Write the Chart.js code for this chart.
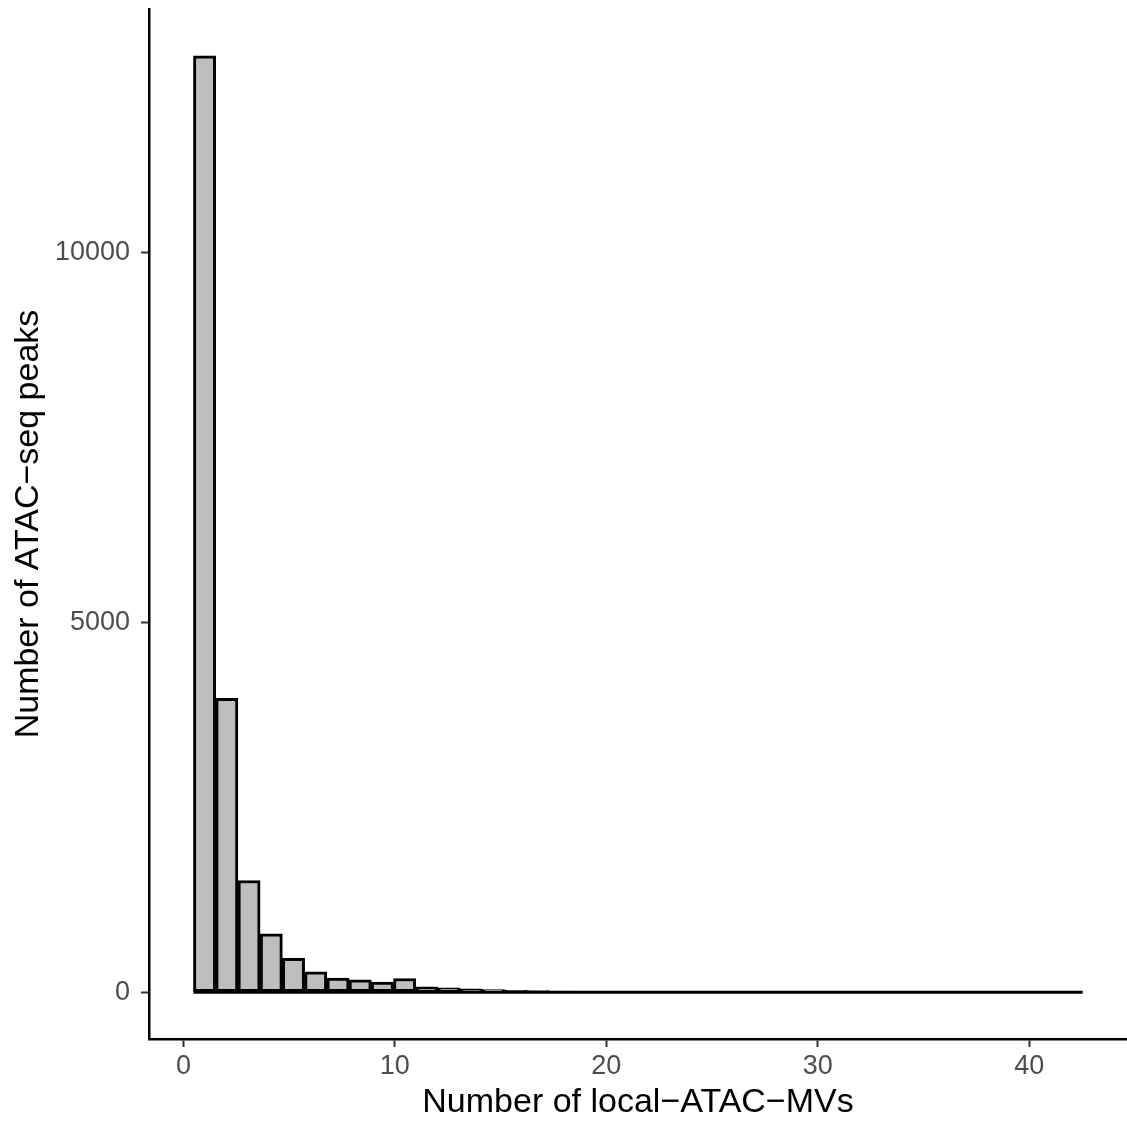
<!DOCTYPE html>
<html>
<head>
<meta charset="utf-8">
<script src="https://cdn.jsdelivr.net/npm/chart.js@4"></script>
<style>
  html, body { margin: 0; padding: 0; background: #fff; }
  canvas { display: block; }
</style>
</head>
<body>
<canvas id="hist" width="1127" height="1126"></canvas>
<script>
// histogram: 40 bins between the first and last centre (ggplot style)
const binFirst = 1;
const binLast = 42;
const binCount = 40;

// counts per bin
const counts = [
  12655, 3972, 1509, 788, 458, 276, 189, 168, 135, 185,
  72, 58, 45, 34, 26, 20, 16, 13, 11, 9,
  8, 7, 6, 5, 5, 4, 4, 3, 3, 3,
  2, 2, 2, 2, 1, 2, 1, 1, 1, 1
];

const xTicks = [0, 10, 20, 30, 40];
const yTicks = [0, 5000, 10000];

const binWidth = (binLast - binFirst) / (binCount - 1);
const centres = counts.map((_, i) => binFirst + i * binWidth);
const lo = binFirst - binWidth / 2;
const hi = binLast + binWidth / 2;
const yMax = Math.max(...counts);

const barData = counts.map((c, i) => ({ x: centres[i], y: c }));

const tickFont = { family: "'Liberation Sans', Arial, sans-serif", size: 27 };
const titleFont = { family: "'Liberation Sans', Arial, sans-serif", size: 34 };

const ctx = document.getElementById("hist").getContext("2d");

new Chart(ctx, {
  data: {
    datasets: [
      {
        type: "line",
        data: [{ x: lo, y: 0 }, { x: hi, y: 0 }],
        borderColor: "#000",
        borderWidth: 3,
        pointRadius: 0,
        order: 0
      },
      {
        type: "bar",
        data: barData,
        backgroundColor: "#BEBEBE",
        borderColor: "#000",
        borderWidth: 3,
        borderSkipped: false,
        barPercentage: 1,
        categoryPercentage: 1,
        order: 1
      }
    ]
  },
  options: {
    responsive: false,
    animation: false,
    layout: { padding: { top: 9, right: 0, left: 0, bottom: 0 } },
    plugins: { legend: { display: false }, tooltip: { enabled: false } },
    scales: {
      x: {
        type: "linear",
        offset: false,
        min: lo - (hi - lo) * 0.05,
        max: hi + (hi - lo) * 0.05,
        afterBuildTicks: s => { s.ticks = xTicks.map(v => ({ value: v })); },
        afterFit: s => { s.height = 87; s.paddingLeft = 0; s.paddingRight = 0; },
        ticks: { font: tickFont, color: "#4D4D4D", padding: 3, maxRotation: 0, callback: v => String(v) },
        grid: { offset: false, drawOnChartArea: false, tickLength: 8, tickWidth: 2, tickColor: "#333" },
        border: { display: true, color: "#000", width: 2.5 },
        title: {
          display: true,
          text: "Number of local\u2212ATAC\u2212MVs",
          font: titleFont,
          color: "#000",
          padding: { top: 0, bottom: 3 }
        }
      },
      y: {
        type: "linear",
        min: -yMax * 0.05,
        max: yMax * 1.05,
        afterBuildTicks: s => { s.ticks = yTicks.map(v => ({ value: v })); },
        afterFit: s => { s.width = 149; s.paddingTop = 0; s.paddingBottom = 0; },
        ticks: { font: tickFont, color: "#4D4D4D", padding: 11, callback: v => String(v) },
        grid: { drawOnChartArea: false, tickLength: 8, tickWidth: 2, tickColor: "#333" },
        border: { display: true, color: "#000", width: 2.5 },
        title: {
          display: true,
          text: "Number of ATAC\u2212seq peaks",
          font: titleFont,
          color: "#000",
          padding: { top: 8, bottom: 0 }
        }
      }
    }
  }
});
</script>
</body>
</html>
